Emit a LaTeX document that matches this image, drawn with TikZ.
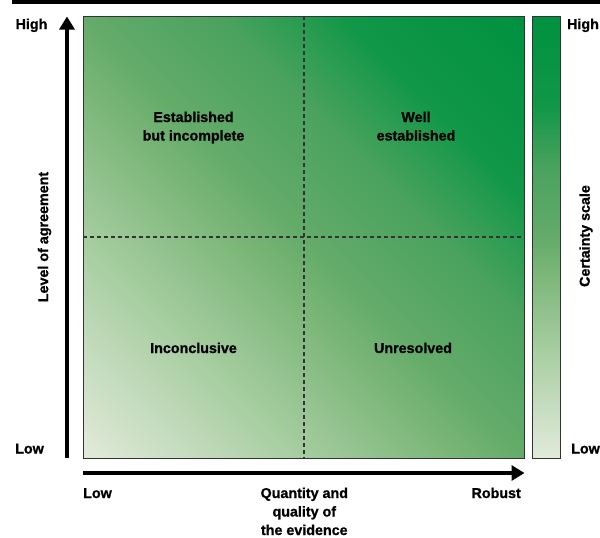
\documentclass[tikz,border=0pt]{standalone}
\usepackage{fontspec}
\setmainfont{Liberation Sans}[BoldFeatures={FakeBold=1}]
\usetikzlibrary{arrows.meta}
\definecolor{gA}{HTML}{E2EADA}
\definecolor{gB}{HTML}{A8CEA2}
\definecolor{gC}{HTML}{7DB77A}
\definecolor{gD}{HTML}{64AB6A}
\definecolor{gE}{HTML}{49A25D}
\definecolor{gF}{HTML}{109747}
\definecolor{gG}{HTML}{00913F}
\definecolor{edge}{HTML}{333333}
\pgfdeclarehorizontalshading{certdiag}{100bp}{color(0bp)=(gA); color(14.64bp)=(gA); color(31.6bp)=(gB); color(43.6bp)=(gC); color(50bp)=(gD); color(61.3bp)=(gE); color(71.2bp)=(gF); color(85.36bp)=(gG); color(100bp)=(gG)}
\pgfdeclareverticalshading{certvert}{100bp}{color(0bp)=(gA); color(25bp)=(gA); color(37bp)=(gB); color(45.5bp)=(gC); color(50bp)=(gD); color(58bp)=(gE); color(65bp)=(gF); color(75bp)=(gG); color(100bp)=(gG)}
\tikzset{
  lbl/.style={font=\fontsize{14.3}{18.5}\selectfont\bfseries, text=black, inner sep=0pt, align=center},
  axisarrow/.style={line width=4.6pt, -{Triangle[length=13pt,width=15pt]}},
  divider/.style={draw=edge, line width=1.1pt, dash pattern=on 4pt off 3pt},
  frame/.style={draw=edge, line width=1pt}
}
\begin{document}
\begin{tikzpicture}[x=1pt,y=-1pt]
\useasboundingbox (0,0) rectangle (600,538);
% top bar
\fill[black] (12,0) rectangle (600,3.8);
% main square
\path[shading=certdiag, shading angle=45] (83,16) rectangle (524,458);
\draw[frame] (83,16) rectangle (524,458);
% scale bar
\path[shading=certvert] (532,16) rectangle (560,458);
\draw[frame] (532,16) rectangle (560,458);
% dividers
\coordinate (vt) at (304,16);
\coordinate (vb) at (304,458);
\coordinate (hl) at (83,237);
\coordinate (hr) at (524,237);
\draw[divider] (vt) -- (vb);
\draw[divider] (hl) -- (hr);
% axes
\coordinate (ys) at (67,458);
\coordinate (ye) at (67,16.5);
\coordinate (xs) at (83,473);
\coordinate (xe) at (524.5,473);
\draw[axisarrow] (ys) -- (ye);
\draw[axisarrow] (xs) -- (xe);
% axis labels
\node[lbl, anchor=base] (hiL) at (31.5,29) {High};
\node[lbl, anchor=base] (loL) at (29.5,453.5) {Low};
\node[lbl, anchor=base] (hiR) at (583,29) {High};
\node[lbl, anchor=base] (loR) at (585.5,453.5) {Low};
\node[lbl, anchor=base west] (loX) at (83,498) {Low};
\node[lbl, anchor=base east] (roX) at (521,498) {Robust};
\node[lbl, anchor=base] (qX) at (304.3,535) {Quantity and\\quality of\\the evidence};
\node[lbl, rotate=90] (agr) at (44.5,237) {Level of agreement};
\node[lbl, rotate=90] (cert) at (586,236) {Certainty scale};
% quadrant labels
\node[lbl, anchor=base] (q1) at (193.5,140.5) {Established\\but incomplete};
\node[lbl, anchor=base] (q2) at (416,140.5) {Well\\established};
\node[lbl, anchor=base] (q3) at (193.5,353) {Inconclusive};
\node[lbl, anchor=base] (q4) at (413,353) {Unresolved};
\end{tikzpicture}
\end{document}
